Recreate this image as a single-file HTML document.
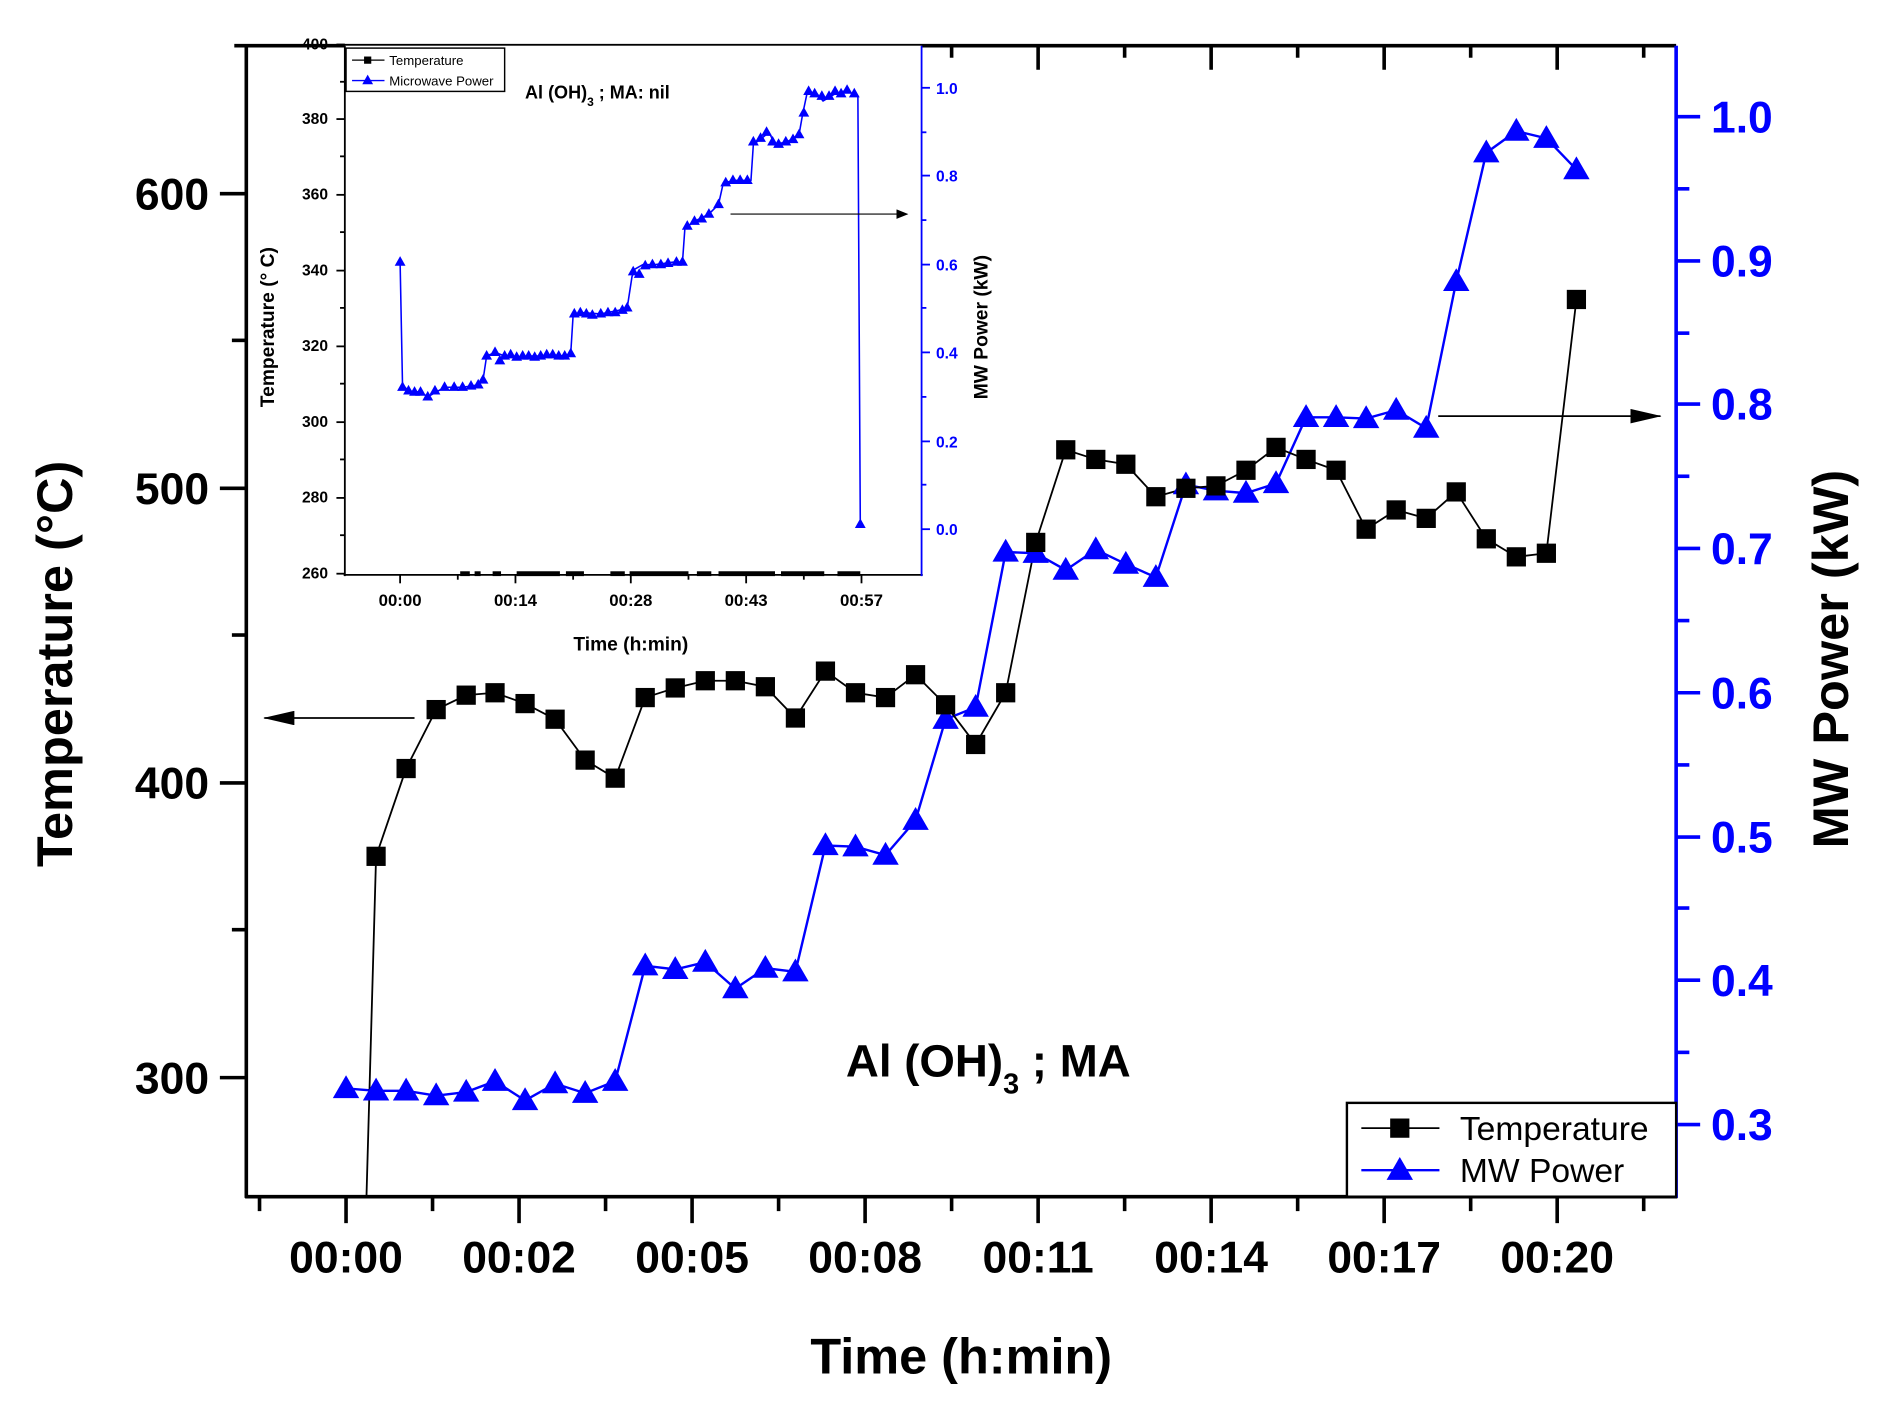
<!DOCTYPE html>
<html><head><meta charset="utf-8"><style>
html,body{margin:0;padding:0;background:#fff}
svg{display:block}
text{font-family:"Liberation Sans",Arial,sans-serif;font-weight:bold}
</style></head><body>
<svg width="1884" height="1424" viewBox="0 0 1568 1184" preserveAspectRatio="none" xmlns="http://www.w3.org/2000/svg">
<defs>
<marker id="ah" markerWidth="10" markerHeight="8" refX="9" refY="4" orient="auto" markerUnits="userSpaceOnUse"><path d="M0,0 L10,4 L0,8 z" fill="#000"/></marker>
<marker id="ah2" markerWidth="26" markerHeight="12" refX="25" refY="6" orient="auto" markerUnits="userSpaceOnUse"><path d="M0,0 L26,6 L0,12 z" fill="#000"/></marker>
<g id="sq"><rect x="-8" y="-8" width="16" height="16" fill="#000"/></g>
<g id="tr"><path d="M0,-11 L11,8 L-11,8 z" fill="#00f"/></g>
<g id="tr2"><path d="M0,-5 L4.5,3 L-4.5,3 z" fill="#00f"/></g>
</defs>
<rect width="1568" height="1184" fill="#fff"/>

<line x1="195" y1="38" x2="1395" y2="38" stroke="#000" stroke-width="3"/>
<line x1="205" y1="38" x2="205" y2="996" stroke="#000" stroke-width="3"/>
<line x1="204" y1="995" x2="1396" y2="995" stroke="#000" stroke-width="3"/>
<line x1="1395" y1="38" x2="1395" y2="996" stroke="#00f" stroke-width="3"/>

<g stroke="#000" stroke-width="3">
<line x1="183" y1="896" x2="205" y2="896"/><line x1="183" y1="651" x2="205" y2="651"/><line x1="183" y1="406" x2="205" y2="406"/><line x1="183" y1="161" x2="205" y2="161"/>
<line x1="193" y1="773" x2="205" y2="773"/><line x1="193" y1="528" x2="205" y2="528"/><line x1="193" y1="283" x2="205" y2="283"/>
</g>
<g font-size="37" text-anchor="end" fill="#000">
<text x="174" y="909">300</text><text x="174" y="664">400</text><text x="174" y="419">500</text><text x="174" y="174">600</text>
</g>

<g stroke="#00f" stroke-width="3">
<line x1="1395" y1="935" x2="1415" y2="935"/><line x1="1395" y1="815" x2="1415" y2="815"/><line x1="1395" y1="696" x2="1415" y2="696"/><line x1="1395" y1="576" x2="1415" y2="576"/><line x1="1395" y1="456" x2="1415" y2="456"/><line x1="1395" y1="336" x2="1415" y2="336"/><line x1="1395" y1="217" x2="1415" y2="217"/><line x1="1395" y1="97" x2="1415" y2="97"/>
<line x1="1395" y1="875" x2="1406" y2="875"/><line x1="1395" y1="755" x2="1406" y2="755"/><line x1="1395" y1="636" x2="1406" y2="636"/><line x1="1395" y1="516" x2="1406" y2="516"/><line x1="1395" y1="396" x2="1406" y2="396"/><line x1="1395" y1="277" x2="1406" y2="277"/><line x1="1395" y1="157" x2="1406" y2="157"/>
</g>
<g font-size="37" fill="#00f">
<text x="1424" y="948">0.3</text><text x="1424" y="828">0.4</text><text x="1424" y="709">0.5</text><text x="1424" y="589">0.6</text><text x="1424" y="469">0.7</text><text x="1424" y="349">0.8</text><text x="1424" y="230">0.9</text><text x="1424" y="110">1.0</text>
</g>

<g stroke="#000" stroke-width="3">
<line x1="288" y1="995" x2="288" y2="1017"/><line x1="432" y1="995" x2="432" y2="1017"/><line x1="576" y1="995" x2="576" y2="1017"/><line x1="720" y1="995" x2="720" y2="1017"/><line x1="864" y1="995" x2="864" y2="1017"/><line x1="1008" y1="995" x2="1008" y2="1017"/><line x1="1152" y1="995" x2="1152" y2="1017"/><line x1="1296" y1="995" x2="1296" y2="1017"/>
<line x1="216" y1="995" x2="216" y2="1007"/><line x1="360" y1="995" x2="360" y2="1007"/><line x1="504" y1="995" x2="504" y2="1007"/><line x1="648" y1="995" x2="648" y2="1007"/><line x1="792" y1="995" x2="792" y2="1007"/><line x1="936" y1="995" x2="936" y2="1007"/><line x1="1080" y1="995" x2="1080" y2="1007"/><line x1="1224" y1="995" x2="1224" y2="1007"/><line x1="1368" y1="995" x2="1368" y2="1007"/>
<line x1="432" y1="38" x2="432" y2="58"/><line x1="576" y1="38" x2="576" y2="58"/><line x1="720" y1="38" x2="720" y2="58"/><line x1="864" y1="38" x2="864" y2="58"/><line x1="1008" y1="38" x2="1008" y2="58"/><line x1="1152" y1="38" x2="1152" y2="58"/><line x1="1296" y1="38" x2="1296" y2="58"/>
<line x1="504" y1="38" x2="504" y2="48"/><line x1="648" y1="38" x2="648" y2="48"/><line x1="792" y1="38" x2="792" y2="48"/><line x1="936" y1="38" x2="936" y2="48"/><line x1="1080" y1="38" x2="1080" y2="48"/><line x1="1224" y1="38" x2="1224" y2="48"/><line x1="1368" y1="38" x2="1368" y2="48"/>
</g>
<g font-size="37" text-anchor="middle" fill="#000">
<text x="288" y="1058">00:00</text><text x="432" y="1058">00:02</text><text x="576" y="1058">00:05</text><text x="720" y="1058">00:08</text><text x="864" y="1058">00:11</text><text x="1008" y="1058">00:14</text><text x="1152" y="1058">00:17</text><text x="1296" y="1058">00:20</text>
</g>

<text x="800" y="1142" font-size="42" text-anchor="middle">Time (h:min)</text>
<text transform="translate(60,552) rotate(-90)" font-size="42" text-anchor="middle">Temperature (°C)</text>
<text transform="translate(1538,548) rotate(-90)" font-size="42" text-anchor="middle">MW Power (kW)</text>

<polyline fill="none" stroke="#00f" stroke-width="2" points="288,905 313,907 338,907 363,911 388,908 412,899 437,915 462,901 487,909 512,899 537,803 562,806 587,800 612,822 637,805 662,808 687,703 712,704 737,711 762,682 787,598 812,588 837,459 862,460 887,474 912,457 937,469 962,480 987,403 1012,408 1037,410 1062,402 1087,347 1112,347 1137,348 1162,341 1187,356 1212,234 1237,127 1262,109 1287,115 1312,141"/>
<polyline fill="none" stroke="#000" stroke-width="1.5" points="305,995 313,712 338,639 363,590 388,578 412,576 437,585 462,598 487,632 512,647 537,580 562,572 587,566 612,566 637,571 662,597 687,558 712,576 737,580 762,561 787,586 812,619 837,576 862,451 887,374 912,382 937,386 962,413 987,406 1012,404 1037,391 1062,372 1087,382 1112,391 1137,440 1162,424 1187,431 1212,409 1237,448 1262,463 1287,460 1312,249"/>
<g>
<use href="#tr" x="288" y="905"/><use href="#tr" x="313" y="907"/><use href="#tr" x="338" y="907"/><use href="#tr" x="363" y="911"/><use href="#tr" x="388" y="908"/><use href="#tr" x="412" y="899"/><use href="#tr" x="437" y="915"/><use href="#tr" x="462" y="901"/><use href="#tr" x="487" y="909"/><use href="#tr" x="512" y="899"/><use href="#tr" x="537" y="803"/><use href="#tr" x="562" y="806"/><use href="#tr" x="587" y="800"/><use href="#tr" x="612" y="822"/><use href="#tr" x="637" y="805"/><use href="#tr" x="662" y="808"/><use href="#tr" x="687" y="703"/><use href="#tr" x="712" y="704"/><use href="#tr" x="737" y="711"/><use href="#tr" x="762" y="682"/><use href="#tr" x="787" y="598"/><use href="#tr" x="812" y="588"/><use href="#tr" x="837" y="459"/><use href="#tr" x="862" y="460"/><use href="#tr" x="887" y="474"/><use href="#tr" x="912" y="457"/><use href="#tr" x="937" y="469"/><use href="#tr" x="962" y="480"/><use href="#tr" x="987" y="403"/><use href="#tr" x="1012" y="408"/><use href="#tr" x="1037" y="410"/><use href="#tr" x="1062" y="402"/><use href="#tr" x="1087" y="347"/><use href="#tr" x="1112" y="347"/><use href="#tr" x="1137" y="348"/><use href="#tr" x="1162" y="341"/><use href="#tr" x="1187" y="356"/><use href="#tr" x="1212" y="234"/><use href="#tr" x="1237" y="127"/><use href="#tr" x="1262" y="109"/><use href="#tr" x="1287" y="115"/><use href="#tr" x="1312" y="141"/>
</g>
<g>
<use href="#sq" x="313" y="712"/><use href="#sq" x="338" y="639"/><use href="#sq" x="363" y="590"/><use href="#sq" x="388" y="578"/><use href="#sq" x="412" y="576"/><use href="#sq" x="437" y="585"/><use href="#sq" x="462" y="598"/><use href="#sq" x="487" y="632"/><use href="#sq" x="512" y="647"/><use href="#sq" x="537" y="580"/><use href="#sq" x="562" y="572"/><use href="#sq" x="587" y="566"/><use href="#sq" x="612" y="566"/><use href="#sq" x="637" y="571"/><use href="#sq" x="662" y="597"/><use href="#sq" x="687" y="558"/><use href="#sq" x="712" y="576"/><use href="#sq" x="737" y="580"/><use href="#sq" x="762" y="561"/><use href="#sq" x="787" y="586"/><use href="#sq" x="812" y="619"/><use href="#sq" x="837" y="576"/><use href="#sq" x="862" y="451"/><use href="#sq" x="887" y="374"/><use href="#sq" x="912" y="382"/><use href="#sq" x="937" y="386"/><use href="#sq" x="962" y="413"/><use href="#sq" x="987" y="406"/><use href="#sq" x="1012" y="404"/><use href="#sq" x="1037" y="391"/><use href="#sq" x="1062" y="372"/><use href="#sq" x="1087" y="382"/><use href="#sq" x="1112" y="391"/><use href="#sq" x="1137" y="440"/><use href="#sq" x="1162" y="424"/><use href="#sq" x="1187" y="431"/><use href="#sq" x="1212" y="409"/><use href="#sq" x="1237" y="448"/><use href="#sq" x="1262" y="463"/><use href="#sq" x="1287" y="460"/><use href="#sq" x="1312" y="249"/>
</g>

<line x1="345" y1="597" x2="220" y2="597" stroke="#000" stroke-width="1.5" marker-end="url(#ah2)"/>
<line x1="1197" y1="346" x2="1382" y2="346" stroke="#000" stroke-width="1.5" marker-end="url(#ah2)"/>

<text x="704" y="895" font-size="38">Al (OH)<tspan font-size="24" dy="14">3</tspan><tspan dy="-14"> ; MA</tspan></text>

<rect x="1121" y="917" width="274" height="78" fill="#fff" stroke="#000" stroke-width="2"/>
<line x1="1133" y1="938" x2="1198" y2="938" stroke="#000" stroke-width="1.5"/>
<use href="#sq" x="1165" y="938"/>
<line x1="1133" y1="973" x2="1198" y2="973" stroke="#00f" stroke-width="2"/>
<use href="#tr" x="1165" y="973"/>
<text x="1215" y="948" font-size="28" style="font-weight:normal">Temperature</text>
<text x="1215" y="983" font-size="28" style="font-weight:normal">MW Power</text>

<rect x="287" y="38" width="480" height="440" fill="#fff"/>
<line x1="287" y1="38" x2="287" y2="479" stroke="#000" stroke-width="1.5"/>
<line x1="286" y1="478" x2="768" y2="478" stroke="#000" stroke-width="1.5"/>
<line x1="767" y1="38" x2="767" y2="479" stroke="#00f" stroke-width="1.5"/>
<g stroke="#000" stroke-width="1.5">
<line x1="280" y1="477" x2="287" y2="477"/><line x1="280" y1="414" x2="287" y2="414"/><line x1="280" y1="351" x2="287" y2="351"/><line x1="280" y1="288" x2="287" y2="288"/><line x1="280" y1="225" x2="287" y2="225"/><line x1="280" y1="162" x2="287" y2="162"/><line x1="280" y1="99" x2="287" y2="99"/><line x1="280" y1="37" x2="287" y2="37"/>
<line x1="283" y1="445" x2="287" y2="445"/><line x1="283" y1="382" x2="287" y2="382"/><line x1="283" y1="319" x2="287" y2="319"/><line x1="283" y1="256" x2="287" y2="256"/><line x1="283" y1="193" x2="287" y2="193"/><line x1="283" y1="130" x2="287" y2="130"/><line x1="283" y1="68" x2="287" y2="68"/>
<line x1="333" y1="478" x2="333" y2="485"/><line x1="429" y1="478" x2="429" y2="485"/><line x1="525" y1="478" x2="525" y2="485"/><line x1="621" y1="478" x2="621" y2="485"/><line x1="717" y1="478" x2="717" y2="485"/>
<line x1="381" y1="478" x2="381" y2="482"/><line x1="477" y1="478" x2="477" y2="482"/><line x1="573" y1="478" x2="573" y2="482"/><line x1="669" y1="478" x2="669" y2="482"/>
</g>
<g stroke="#00f" stroke-width="1.5">
<line x1="767" y1="440" x2="774" y2="440"/><line x1="767" y1="367" x2="774" y2="367"/><line x1="767" y1="293" x2="774" y2="293"/><line x1="767" y1="220" x2="774" y2="220"/><line x1="767" y1="146" x2="774" y2="146"/><line x1="767" y1="73" x2="774" y2="73"/>
<line x1="767" y1="403" x2="771" y2="403"/><line x1="767" y1="330" x2="771" y2="330"/><line x1="767" y1="256" x2="771" y2="256"/><line x1="767" y1="183" x2="771" y2="183"/><line x1="767" y1="110" x2="771" y2="110"/>
</g>
<g font-size="13" text-anchor="end" fill="#000">
<text x="273" y="481">260</text><text x="273" y="418">280</text><text x="273" y="355">300</text><text x="273" y="292">320</text><text x="273" y="229">340</text><text x="273" y="166">360</text><text x="273" y="103">380</text><text x="273" y="41">400</text>
</g>
<g font-size="13" fill="#00f">
<text x="779" y="445">0.0</text><text x="779" y="372">0.2</text><text x="779" y="298">0.4</text><text x="779" y="225">0.6</text><text x="779" y="151">0.8</text><text x="779" y="78">1.0</text>
</g>
<g font-size="14" text-anchor="middle" fill="#000">
<text x="333" y="504">00:00</text><text x="429" y="504">00:14</text><text x="525" y="504">00:28</text><text x="621" y="504">00:43</text><text x="717" y="504">00:57</text>
</g>
<text x="525" y="541" font-size="16" text-anchor="middle">Time (h:min)</text>
<text transform="translate(228,272) rotate(-90)" font-size="16" text-anchor="middle">Temperature (° C)</text>
<text transform="translate(822,272) rotate(-90)" font-size="16" text-anchor="middle">MW Power (kW)</text>
<text x="437" y="82" font-size="15">Al (OH)<tspan font-size="10" dy="6">3</tspan><tspan dy="-6"> ; MA: nil</tspan></text>
<polyline fill="none" stroke="#00f" stroke-width="1.3" points="333,218 335,320 340,325 350,326 356,330 370,322 385,322 398,320 402,316 405,296 412,293 420,296 430,297 440,296 450,296 460,295 470,296 475,294 477,262 485,260 500,261 515,258 522,256 526,230 528,224 535,220 545,220 560,218 568,218 570,190 578,184 590,178 598,170 602,152 612,150 625,150 627,120 634,115 640,110 645,120 655,118 665,112 668,95 672,76 680,78 685,84 695,78 705,75 712,80 714,80 716,436"/>
<g>
<use href="#tr2" x="333" y="218"/><use href="#tr2" x="335" y="322"/><use href="#tr2" x="340" y="325"/><use href="#tr2" x="345" y="326"/><use href="#tr2" x="350" y="326"/><use href="#tr2" x="356" y="330"/><use href="#tr2" x="362" y="325"/><use href="#tr2" x="370" y="322"/><use href="#tr2" x="378" y="322"/><use href="#tr2" x="385" y="322"/><use href="#tr2" x="392" y="321"/><use href="#tr2" x="398" y="320"/><use href="#tr2" x="402" y="316"/><use href="#tr2" x="405" y="296"/><use href="#tr2" x="412" y="293"/><use href="#tr2" x="416" y="300"/><use href="#tr2" x="420" y="296"/><use href="#tr2" x="425" y="295"/><use href="#tr2" x="430" y="297"/><use href="#tr2" x="435" y="296"/><use href="#tr2" x="440" y="296"/><use href="#tr2" x="445" y="297"/><use href="#tr2" x="450" y="296"/><use href="#tr2" x="455" y="295"/><use href="#tr2" x="460" y="295"/><use href="#tr2" x="465" y="296"/><use href="#tr2" x="470" y="296"/><use href="#tr2" x="475" y="294"/><use href="#tr2" x="478" y="261"/><use href="#tr2" x="483" y="260"/><use href="#tr2" x="488" y="261"/><use href="#tr2" x="493" y="262"/><use href="#tr2" x="500" y="261"/><use href="#tr2" x="506" y="260"/><use href="#tr2" x="512" y="260"/><use href="#tr2" x="518" y="258"/><use href="#tr2" x="522" y="256"/><use href="#tr2" x="527" y="226"/><use href="#tr2" x="532" y="228"/><use href="#tr2" x="537" y="221"/><use href="#tr2" x="543" y="220"/><use href="#tr2" x="550" y="220"/><use href="#tr2" x="556" y="219"/><use href="#tr2" x="563" y="218"/><use href="#tr2" x="568" y="218"/><use href="#tr2" x="572" y="188"/><use href="#tr2" x="578" y="184"/><use href="#tr2" x="584" y="182"/><use href="#tr2" x="590" y="178"/><use href="#tr2" x="598" y="170"/><use href="#tr2" x="604" y="152"/><use href="#tr2" x="610" y="150"/><use href="#tr2" x="616" y="150"/><use href="#tr2" x="622" y="150"/><use href="#tr2" x="627" y="118"/><use href="#tr2" x="633" y="115"/><use href="#tr2" x="638" y="110"/><use href="#tr2" x="643" y="118"/><use href="#tr2" x="648" y="120"/><use href="#tr2" x="654" y="118"/><use href="#tr2" x="660" y="116"/><use href="#tr2" x="665" y="112"/><use href="#tr2" x="669" y="94"/><use href="#tr2" x="673" y="76"/><use href="#tr2" x="678" y="78"/><use href="#tr2" x="684" y="80"/><use href="#tr2" x="690" y="80"/><use href="#tr2" x="695" y="76"/><use href="#tr2" x="700" y="78"/><use href="#tr2" x="705" y="75"/><use href="#tr2" x="711" y="78"/><use href="#tr2" x="716" y="436"/>
</g>
<g stroke="#000" stroke-width="4">
<line x1="383" y1="477" x2="391" y2="477"/><line x1="395" y1="477" x2="400" y2="477"/><line x1="410" y1="477" x2="417" y2="477"/><line x1="430" y1="477" x2="466" y2="477"/><line x1="471" y1="477" x2="486" y2="477"/><line x1="508" y1="477" x2="520" y2="477"/><line x1="524" y1="477" x2="573" y2="477"/><line x1="580" y1="477" x2="592" y2="477"/><line x1="598" y1="477" x2="645" y2="477"/><line x1="650" y1="477" x2="686" y2="477"/><line x1="697" y1="477" x2="716" y2="477"/>
</g>
<line x1="608" y1="178" x2="755" y2="178" stroke="#000" stroke-width="1" marker-end="url(#ah)"/>
<rect x="288" y="40" width="132" height="36" fill="#fff" stroke="#000" stroke-width="1.2"/>
<line x1="293" y1="50" x2="320" y2="50" stroke="#000" stroke-width="1"/><rect x="303" y="47" width="6" height="6" fill="#000"/>
<line x1="293" y1="67" x2="320" y2="67" stroke="#00f" stroke-width="1.2"/><use href="#tr2" x="306" y="67"/>
<text x="324" y="54" font-size="11" style="font-weight:normal">Temperature</text>
<text x="324" y="71" font-size="11" style="font-weight:normal">Microwave Power</text>
</svg>
</body></html>
